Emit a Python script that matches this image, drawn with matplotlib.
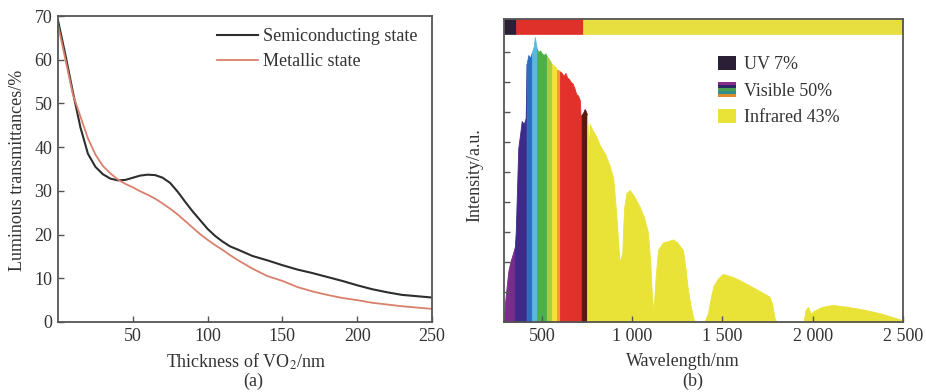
import numpy as np
import matplotlib
matplotlib.use('Agg')
import matplotlib.pyplot as plt
from matplotlib.patches import Rectangle
from matplotlib.legend_handler import HandlerBase

plt.rcParams['font.family'] = ['Liberation Serif', 'DejaVu Serif']
plt.rcParams['mathtext.fontset'] = 'stix'
plt.rcParams['font.size'] = 13

#----------------------------------------------------#
# (a) luminous transmittance vs VO2 thickness
thickness = [0, 5, 10, 15, 20, 25, 30, 35, 40, 45, 50, 55, 60, 65, 70, 75, 80, 85,
             90, 95, 100, 105, 110, 115, 120, 130, 140, 150, 160, 170, 180, 190,
             200, 210, 220, 230, 240, 250]
semi = [69, 61, 52.5, 44.5, 38.5, 35.5, 33.8, 32.8, 32.4, 32.5, 33.0, 33.5, 33.7,
        33.6, 33.0, 31.8, 29.8, 27.5, 25.3, 23.3, 21.3, 19.7, 18.4, 17.3, 16.6,
        15.1, 14.1, 13.0, 12.0, 11.2, 10.3, 9.4, 8.4, 7.5, 6.8, 6.2, 5.9, 5.6]
metal = [68, 60, 52, 47, 42, 38.3, 35.7, 34.0, 32.6, 31.6, 30.8, 29.9, 29.1, 28.2,
         27.1, 25.9, 24.6, 23.1, 21.6, 20.1, 18.8, 17.6, 16.5, 15.3, 14.2, 12.2,
         10.5, 9.4, 8.0, 7.0, 6.2, 5.5, 5.0, 4.4, 4.0, 3.6, 3.3, 3.0]
series_names = ['Semiconducting state', 'Metallic state']

#----------------------------------------------------#
# (b) solar spectrum
wl = [290, 295, 305, 314, 325, 340, 350, 355, 360, 369, 380, 388, 400, 410, 415,
      425, 435, 445, 455, 461, 466, 472, 480, 490, 500, 510, 520, 527, 535, 545,
      555, 565, 575, 583, 590, 600, 610, 620, 630, 640, 650, 660, 670, 680, 690,
      700, 710, 716, 720, 730, 737, 745, 750, 760, 765, 780, 800, 820, 850, 876,
      895, 913, 925, 931, 945, 955, 968, 986, 1010, 1041, 1065, 1087, 1100, 1110,
      1118, 1130, 1143, 1170, 1200, 1225, 1250, 1281, 1295, 1308, 1325, 1340,
      1350, 1400, 1420, 1435, 1450, 1475, 1502, 1550, 1594, 1640, 1686, 1730,
      1760, 1775, 1790, 1800, 1950, 1960, 1975, 1990, 2000, 2050, 2110, 2200,
      2294, 2380, 2460, 2500]
intensity = [0.0, 0.6, 1.2, 1.7, 2.0, 2.3, 2.5, 3.0, 4.0, 5.8, 6.3, 6.7, 6.6, 6.8,
             8.6, 8.9, 8.8, 9.0, 9.2, 9.5, 9.3, 9.1, 9.0, 9.05, 8.95, 8.9, 8.95,
             8.85, 8.8, 8.7, 8.6, 8.55, 8.5, 8.4, 8.4, 8.35, 8.3, 8.2, 8.3, 8.15,
             8.1, 8.0, 7.95, 7.8, 7.6, 7.55, 7.4, 6.6, 6.9, 7.0, 7.1, 7.0, 6.9, 5.8,
             6.6, 6.4, 6.2, 5.9, 5.6, 5.2, 4.8, 3.5, 2.4, 2.0, 2.3, 3.8, 4.3, 4.4,
             4.2, 3.85, 3.5, 3.0, 2.0, 0.8, 0.4, 1.5, 2.4, 2.65, 2.7, 2.75, 2.65,
             2.4, 1.8, 1.1, 0.5, 0.1, 0.0, 0.0, 0.3, 0.8, 1.2, 1.45, 1.6, 1.52, 1.4,
             1.25, 1.1, 0.95, 0.85, 0.6, 0.1, 0.0, 0.0, 0.4, 0.5, 0.25, 0.35, 0.5,
             0.57, 0.5, 0.4, 0.28, 0.13, 0.05]
band_edges = [290, 350, 415, 445, 472, 527, 555, 583, 600, 720, 750, 2500]
band_colors = ['#7a2c8c', '#3e2a88', '#2f6cc0', '#5ab8e0', '#4cb04a', '#a6cc42',
               '#f4e23a', '#f39a2c', '#e2302a', '#5a1812', '#e9e337']
strip_edges = [290, 358, 726, 2500]
strip_colors = ['#2b1f36', '#e0302a', '#e6df3f']
region_labels = ['UV 7%', 'Visible 50%', 'Infrared 43%']
visible_stripes = ['#8a2c8c', '#2a2a6a', '#4aa050', '#2f8f8a', '#e08a30']
wl_ticks = [500, 1000, 1500, 2000, 2500]
wl_ticklabels = ['500', '1 000', '1 500', '2 000', '2 500']


class StripeHandler(HandlerBase):
    def __init__(self, colors):
        super().__init__()
        self.colors = colors

    def create_artists(self, legend, orig_handle, xdescent, ydescent,
                       width, height, fontsize, trans):
        n = len(self.colors)
        out = []
        for i, c in enumerate(self.colors):
            out.append(Rectangle((-xdescent, -ydescent + height * (n - 1 - i) / n),
                                 width, height / n, facecolor=c, edgecolor='none',
                                 transform=trans))
        return out


W, H = 926, 392
fig = plt.figure(figsize=(W / 100, H / 100), dpi=100)
spine_col = '#555555'

#----------------------------------------------------#
ax1 = fig.add_axes([58 / W, 1 - 322 / H, (432 - 58) / W, (322 - 16) / H])
ax1.plot(thickness, semi, color='#2e2e2e', lw=1.5, label=series_names[0])
ax1.plot(thickness, metal, color='#d9806c', lw=1.3, label=series_names[1])
ax1.set_xlim(0, 250)
ax1.set_ylim(0, 70)
ax1.set_xticks([50, 100, 150, 200, 250])
ax1.set_yticks(range(0, 71, 10))
ax1.tick_params(direction='in', length=4, width=1, color=spine_col, pad=4,
                labelcolor='#333333')
for s in ax1.spines.values():
    s.set_color(spine_col)
    s.set_linewidth(1.3)
ax1.legend(loc='upper left', bbox_to_anchor=(0.425, 0.96), frameon=False,
           borderaxespad=0, borderpad=0, handlelength=2.3, handletextpad=0.25,
           labelspacing=0.45, labelcolor='#333333')
fig.text(18 / W, 1 - 170 / H, 'Luminous transmittances/%', rotation=90,
         ha='center', va='center', color='#333333')
fig.text(246 / W, 1 - 362 / H, 'Thickness of VO$_2$/nm', ha='center', va='center',
         color='#333333')
fig.text(253 / W, 1 - 381 / H, '(a)', ha='center', va='center', color='#333333')

#----------------------------------------------------#
ax2 = fig.add_axes([504 / W, 1 - 322 / H, (903 - 504) / W, (322 - 19) / H])
wl_a = np.array(wl)
int_a = np.array(intensity)
for lo, hi, c in zip(band_edges[:-1], band_edges[1:], band_colors):
    m = (wl_a >= lo) & (wl_a <= hi)
    ax2.fill_between(wl_a, 0, int_a, where=m, facecolor=c, edgecolor=c,
                     lw=0.6, zorder=1)
for lo, hi, c in zip(strip_edges[:-1], strip_edges[1:], strip_colors):
    ax2.fill_between([lo, hi], 9.6, 10.1, facecolor=c, edgecolor=c, lw=0.5,
                     zorder=2)
ax2.set_xlim(290, 2500)
ax2.set_ylim(0, 10.1)
ax2.set_xticks(wl_ticks)
ax2.set_xticklabels(wl_ticklabels)
ax2.set_yticks(range(1, 10))
ax2.set_yticklabels([])
ax2.tick_params(direction='in', length=4, width=1, color=spine_col, pad=4,
                labelcolor='#333333')
ax2.set_axisbelow(False)
for s in ax2.spines.values():
    s.set_color(spine_col)
    s.set_linewidth(1.3)
    s.set_zorder(3)

h_uv = Rectangle((0, 0), 1, 1, facecolor=strip_colors[0])
h_vis = Rectangle((0, 0), 1, 1, facecolor='none')
h_ir = Rectangle((0, 0), 1, 1, facecolor=band_colors[-1])
ax2.legend([h_uv, h_vis, h_ir], region_labels, loc='upper left',
           bbox_to_anchor=((718 - 504) / 399, 0.878), frameon=False,
           borderaxespad=0, borderpad=0, handlelength=1.0, handleheight=0.85,
           handletextpad=0.45, labelspacing=0.5, labelcolor='#333333',
           handler_map={h_vis: StripeHandler(visible_stripes)})
fig.text(475 / W, 1 - 175 / H, 'Intensity/a.u.', rotation=90, ha='center',
         va='center', color='#333333')
fig.text(683 / W, 1 - 362 / H, 'Wavelength/nm', ha='center', va='center',
         color='#333333')
fig.text(693 / W, 1 - 381 / H, '(b)', ha='center', va='center', color='#333333')

fig.savefig('out.png', dpi=100)
